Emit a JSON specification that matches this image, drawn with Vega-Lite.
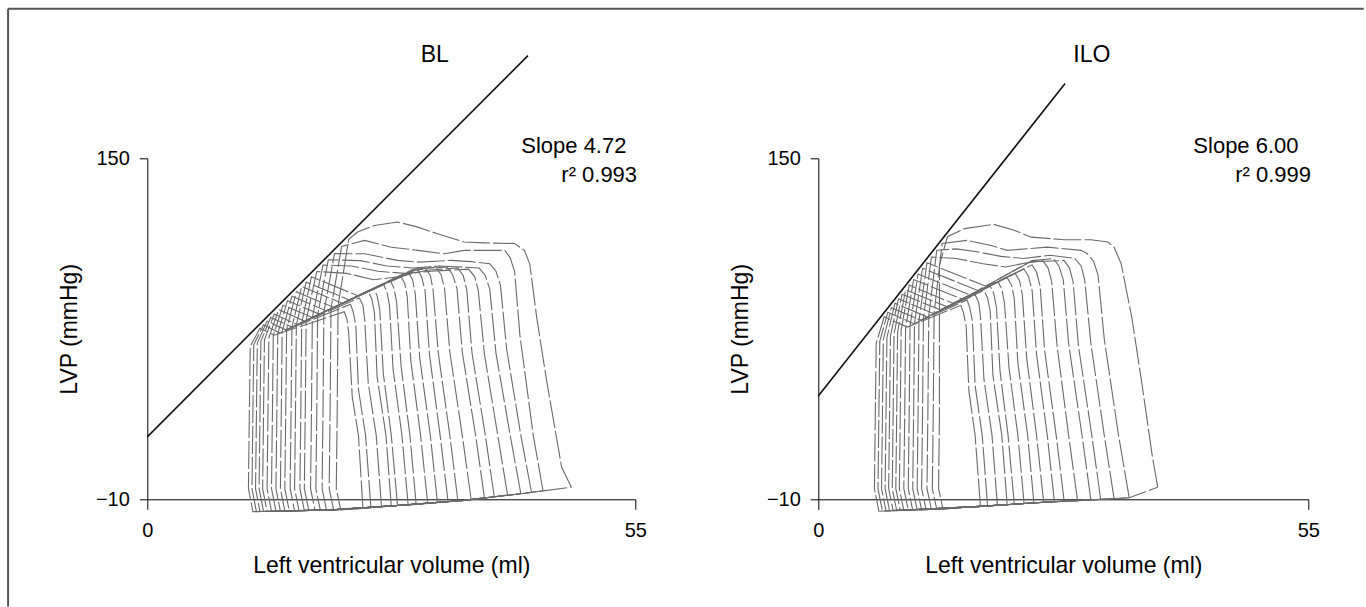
{
"$schema": "https://vega.github.io/schema/vega-lite/v6.json",
"background": "white",
"padding": {"left": 6.3, "top": 7.3, "right": 0, "bottom": 0},
"bounds": "flush",
"spacing": 183,
"config": {
 "view": {"stroke": null},
 "font": "Liberation Sans",
 "axis": {"grid": false, "domainColor": "#000", "domainWidth": 1, "tickColor": "#000", "tickWidth": 1, "labelColor": "#000", "titleColor": "#000", "labelFont": "Liberation Sans", "titleFont": "Liberation Sans", "titleFontWeight": "normal", "labelFontSize": 20, "titleFontSize": 23, "labelFlush": false, "labelOverlap": false},
 "axisX": {"tickSize": 10, "labelPadding": 11, "titlePadding": 14},
 "axisY": {"tickSize": 8, "labelPadding": 10, "titlePadding": 14}
},
"datasets": {
"bl": [
{"k":1,"x":47.8,"y":-4.3},{"k":1,"x":46.7,"y":5},{"k":1,"x":45.0,"y":45.8},{"k":1,"x":43.9,"y":75},{"k":1,"x":43.1,"y":100.5},{"k":1,"x":42.5,"y":106.8},{"k":1,"x":41.4,"y":110},{"k":1,"x":38,"y":110.3},{"k":1,"x":35.7,"y":110.7},{"k":1,"x":32.7,"y":114.6},{"k":1,"x":30.5,"y":117.7},{"k":1,"x":28.2,"y":120.1},{"k":1,"x":25.6,"y":118.5},{"k":1,"x":23.7,"y":115.4},{"k":1,"x":22.7,"y":112},{"k":1,"x":21.5,"y":80.9},{"k":1,"x":21.4,"y":30},{"k":1,"x":21.3,"y":-5},{"k":1,"x":21.8,"y":-15.0},{"k":1,"x":28.2,"y":-12.9},{"k":1,"x":35.7,"y":-10.5},{"k":1,"x":42.1,"y":-7.4},{"k":1,"x":47.8,"y":-4.3},
{"k":2,"x":44.6,"y":-6.0},{"k":2,"x":43.5,"y":20},{"k":2,"x":42.0,"y":66.8},{"k":2,"x":41.4,"y":96.8},{"k":2,"x":40.9,"y":103.3},{"k":2,"x":40.3,"y":106.8},{"k":2,"x":35.7,"y":106.8},{"k":2,"x":33.5,"y":105.2},{"k":2,"x":30.5,"y":106.8},{"k":2,"x":27.5,"y":108.3},{"k":2,"x":24.5,"y":111.5},{"k":2,"x":21.9,"y":108.6},{"k":2,"x":20.7,"y":79.4},{"k":2,"x":20.6,"y":30},{"k":2,"x":20.5,"y":-5},{"k":2,"x":21.0,"y":-15.0},{"k":2,"x":28.2,"y":-12.9},{"k":2,"x":35.7,"y":-10.5},{"k":2,"x":42.1,"y":-7.4},{"k":2,"x":44.6,"y":-6.0},
{"k":3,"x":43.3,"y":-6.7},{"k":3,"x":42.1,"y":20},{"k":3,"x":40.5,"y":60.5},{"k":3,"x":39.8,"y":90.5},{"k":3,"x":39.3,"y":97},{"k":3,"x":38.6,"y":100.5},{"k":3,"x":36.5,"y":101.5},{"k":3,"x":34.2,"y":102.1},{"k":3,"x":30.5,"y":101.3},{"k":3,"x":28.2,"y":102.1},{"k":3,"x":24.5,"y":105.2},{"k":3,"x":21.1,"y":105.3},{"k":3,"x":19.9,"y":77.8},{"k":3,"x":19.8,"y":30},{"k":3,"x":19.7,"y":-5},{"k":3,"x":20.2,"y":-15.1},{"k":3,"x":28.2,"y":-12.9},{"k":3,"x":35.7,"y":-10.5},{"k":3,"x":42.1,"y":-7.4},{"k":3,"x":43.3,"y":-6.7},
{"k":4,"x":42.1,"y":-7.4},{"k":4,"x":40.9,"y":20},{"k":4,"x":39.3,"y":58.5},{"k":4,"x":38.6,"y":88.5},{"k":4,"x":38.1,"y":95},{"k":4,"x":37.4,"y":98.5},{"k":4,"x":33,"y":99.5},{"k":4,"x":30,"y":98.5},{"k":4,"x":27,"y":99.5},{"k":4,"x":24,"y":102},{"k":4,"x":20.4,"y":102.4},{"k":4,"x":19.2,"y":76.5},{"k":4,"x":19.1,"y":30},{"k":4,"x":19.0,"y":-5},{"k":4,"x":19.5,"y":-15.1},{"k":4,"x":28.2,"y":-12.9},{"k":4,"x":35.7,"y":-10.5},{"k":4,"x":42.1,"y":-7.4},
{"k":5,"x":40.6,"y":-8.0},{"k":5,"x":39.5,"y":20},{"k":5,"x":38.0,"y":58},{"k":5,"x":37.3,"y":88},{"k":5,"x":36.9,"y":94.5},{"k":5,"x":36.2,"y":98},{"k":5,"x":32,"y":97},{"k":5,"x":29,"y":96},{"k":5,"x":26,"y":97},{"k":5,"x":23,"y":99.5},{"k":5,"x":19.8,"y":99.9},{"k":5,"x":18.6,"y":75.3},{"k":5,"x":18.5,"y":30},{"k":5,"x":18.4,"y":-5},{"k":5,"x":18.9,"y":-15.2},{"k":5,"x":20.7,"y":-15.0},{"k":5,"x":28.2,"y":-12.9},{"k":5,"x":35.7,"y":-10.5},{"k":5,"x":40.6,"y":-8.0},
{"k":6,"x":39.1,"y":-8.8},{"k":6,"x":38.1,"y":20},{"k":6,"x":36.6,"y":58.5},{"k":6,"x":36.0,"y":88.5},{"k":6,"x":35.6,"y":95},{"k":6,"x":35.0,"y":98.5},{"k":6,"x":31.5,"y":97.5},{"k":6,"x":28.5,"y":94.5},{"k":6,"x":25.5,"y":93},{"k":6,"x":22.5,"y":96},{"k":6,"x":19.1,"y":96.9},{"k":6,"x":17.9,"y":73.9},{"k":6,"x":17.8,"y":30},{"k":6,"x":17.7,"y":-5},{"k":6,"x":18.2,"y":-15.2},{"k":6,"x":20.7,"y":-15.0},{"k":6,"x":28.2,"y":-12.9},{"k":6,"x":35.7,"y":-10.5},{"k":6,"x":39.1,"y":-8.8},
{"k":7,"x":38.0,"y":-9.3},{"k":7,"x":37.0,"y":20},{"k":7,"x":35.5,"y":59},{"k":7,"x":34.9,"y":89},{"k":7,"x":34.4,"y":95.5},{"k":7,"x":33.8,"y":99},{"k":7,"x":30,"y":98},{"k":7,"x":23.8,"y":85.4},{"k":7,"x":18.5,"y":94.4},{"k":7,"x":17.4,"y":72.6},{"k":7,"x":17.3,"y":30},{"k":7,"x":17.2,"y":-5},{"k":7,"x":17.7,"y":-15.3},{"k":7,"x":20.7,"y":-15.0},{"k":7,"x":28.2,"y":-12.9},{"k":7,"x":35.7,"y":-10.5},{"k":7,"x":38.0,"y":-9.3},
{"k":8,"x":36.5,"y":-10.1},{"k":8,"x":35.5,"y":20},{"k":8,"x":34.1,"y":59},{"k":8,"x":33.5,"y":89},{"k":8,"x":33.1,"y":95.5},{"k":8,"x":32.5,"y":99},{"k":8,"x":30,"y":97.5},{"k":8,"x":22.8,"y":83.5},{"k":8,"x":17.9,"y":91.9},{"k":8,"x":16.8,"y":71.8},{"k":8,"x":16.7,"y":30},{"k":8,"x":16.6,"y":-5},{"k":8,"x":17.1,"y":-15.3},{"k":8,"x":20.7,"y":-15.0},{"k":8,"x":28.2,"y":-12.9},{"k":8,"x":35.7,"y":-10.5},{"k":8,"x":36.5,"y":-10.1},
{"k":9,"x":35.0,"y":-10.7},{"k":9,"x":34.1,"y":20},{"k":9,"x":32.8,"y":58.5},{"k":9,"x":32.2,"y":88.5},{"k":9,"x":31.9,"y":95},{"k":9,"x":31.3,"y":98.5},{"k":9,"x":29.5,"y":96},{"k":9,"x":22.0,"y":81.9},{"k":9,"x":17.4,"y":89.9},{"k":9,"x":16.3,"y":70.8},{"k":9,"x":16.2,"y":30},{"k":9,"x":16.1,"y":-5},{"k":9,"x":16.6,"y":-15.4},{"k":9,"x":20.7,"y":-15.0},{"k":9,"x":28.2,"y":-12.9},{"k":9,"x":35.0,"y":-10.7},
{"k":10,"x":33.9,"y":-11.1},{"k":10,"x":33.0,"y":20},{"k":10,"x":31.8,"y":58},{"k":10,"x":31.3,"y":88},{"k":10,"x":30.9,"y":94.5},{"k":10,"x":30.4,"y":98},{"k":10,"x":28.5,"y":94.5},{"k":10,"x":21.0,"y":80},{"k":10,"x":16.8,"y":87.4},{"k":10,"x":15.7,"y":69.7},{"k":10,"x":15.6,"y":30},{"k":10,"x":15.5,"y":-5},{"k":10,"x":16.0,"y":-15.4},{"k":10,"x":20.7,"y":-15.0},{"k":10,"x":28.2,"y":-12.9},{"k":10,"x":33.9,"y":-11.1},
{"k":11,"x":32.7,"y":-11.6},{"k":11,"x":31.9,"y":20},{"k":11,"x":30.7,"y":56.5},{"k":11,"x":30.2,"y":86.5},{"k":11,"x":29.9,"y":93},{"k":11,"x":29.4,"y":96.5},{"k":11,"x":20.2,"y":78.4},{"k":11,"x":16.3,"y":85.3},{"k":11,"x":15.2,"y":68.7},{"k":11,"x":15.1,"y":30},{"k":11,"x":15.0,"y":-5},{"k":11,"x":15.5,"y":-15.5},{"k":11,"x":20.7,"y":-15.0},{"k":11,"x":28.2,"y":-12.9},{"k":11,"x":32.7,"y":-11.6},
{"k":12,"x":31.6,"y":-12.0},{"k":12,"x":30.8,"y":20},{"k":12,"x":29.7,"y":55},{"k":12,"x":29.3,"y":85},{"k":12,"x":29.0,"y":91.5},{"k":12,"x":28.5,"y":95},{"k":12,"x":19.4,"y":76.9},{"k":12,"x":15.8,"y":83.2},{"k":12,"x":14.7,"y":67.7},{"k":12,"x":14.6,"y":30},{"k":12,"x":14.5,"y":-5},{"k":12,"x":15.0,"y":-15.5},{"k":12,"x":20.7,"y":-15.0},{"k":12,"x":28.2,"y":-12.9},{"k":12,"x":31.6,"y":-12.0},
{"k":13,"x":30.3,"y":-12.4},{"k":13,"x":29.6,"y":20},{"k":13,"x":28.6,"y":52.5},{"k":13,"x":28.1,"y":82.5},{"k":13,"x":27.8,"y":89},{"k":13,"x":27.4,"y":92.5},{"k":13,"x":18.6,"y":75.3},{"k":13,"x":15.3,"y":81.1},{"k":13,"x":14.2,"y":66.8},{"k":13,"x":14.1,"y":30},{"k":13,"x":14.0,"y":-5},{"k":13,"x":14.5,"y":-15.5},{"k":13,"x":20.7,"y":-15.0},{"k":13,"x":28.2,"y":-12.9},{"k":13,"x":30.3,"y":-12.4},
{"k":14,"x":29.4,"y":-12.7},{"k":14,"x":28.7,"y":20},{"k":14,"x":27.7,"y":51},{"k":14,"x":27.3,"y":81},{"k":14,"x":27.0,"y":87.5},{"k":14,"x":26.6,"y":91},{"k":14,"x":17.7,"y":73.6},{"k":14,"x":14.8,"y":79.0},{"k":14,"x":13.7,"y":65.8},{"k":14,"x":13.6,"y":30},{"k":14,"x":13.5,"y":-5},{"k":14,"x":14.0,"y":-15.6},{"k":14,"x":20.7,"y":-15.0},{"k":14,"x":28.2,"y":-12.9},{"k":14,"x":29.4,"y":-12.7},
{"k":15,"x":28.2,"y":-12.9},{"k":15,"x":27.5,"y":20},{"k":15,"x":26.6,"y":49},{"k":15,"x":26.2,"y":79},{"k":15,"x":25.9,"y":85.5},{"k":15,"x":25.5,"y":89},{"k":15,"x":16.9,"y":72},{"k":15,"x":14.3,"y":76.9},{"k":15,"x":13.2,"y":64.8},{"k":15,"x":13.1,"y":30},{"k":15,"x":13.0,"y":-5},{"k":15,"x":13.5,"y":-15.6},{"k":15,"x":20.7,"y":-15.0},{"k":15,"x":28.2,"y":-12.9},
{"k":16,"x":27.5,"y":-13.2},{"k":16,"x":26.9,"y":20},{"k":16,"x":25.9,"y":47.5},{"k":16,"x":25.6,"y":77.5},{"k":16,"x":25.3,"y":84},{"k":16,"x":24.9,"y":87.5},{"k":16,"x":16.3,"y":70.8},{"k":16,"x":13.9,"y":75.3},{"k":16,"x":12.8,"y":64.1},{"k":16,"x":12.7,"y":30},{"k":16,"x":12.6,"y":-5},{"k":16,"x":13.1,"y":-15.7},{"k":16,"x":20.7,"y":-15.0},{"k":16,"x":27.5,"y":-13.2},
{"k":17,"x":26.4,"y":-13.6},{"k":17,"x":25.8,"y":20},{"k":17,"x":24.9,"y":44.5},{"k":17,"x":24.5,"y":74.5},{"k":17,"x":24.3,"y":81},{"k":17,"x":23.9,"y":84.5},{"k":17,"x":15.6,"y":69.5},{"k":17,"x":13.5,"y":73.6},{"k":17,"x":12.4,"y":63.3},{"k":17,"x":12.3,"y":30},{"k":17,"x":12.2,"y":-5},{"k":17,"x":12.7,"y":-15.7},{"k":17,"x":20.7,"y":-15.0},{"k":17,"x":26.4,"y":-13.6},
{"k":18,"x":25.2,"y":-14.0},{"k":18,"x":24.6,"y":20},{"k":18,"x":23.8,"y":41.5},{"k":18,"x":23.5,"y":71.5},{"k":18,"x":23.2,"y":78},{"k":18,"x":22.9,"y":81.5},{"k":18,"x":14.9,"y":68.1},{"k":18,"x":13.1,"y":71.9},{"k":18,"x":12.0,"y":62.5},{"k":18,"x":11.9,"y":30},{"k":18,"x":11.8,"y":-5},{"k":18,"x":12.3,"y":-15.8},{"k":18,"x":20.7,"y":-15.0},{"k":18,"x":25.2,"y":-14.0},
{"k":19,"x":24.3,"y":-14.3},{"k":19,"x":23.8,"y":20},{"k":19,"x":23.1,"y":38},{"k":19,"x":22.7,"y":68},{"k":19,"x":22.5,"y":74.5},{"k":19,"x":22.2,"y":78},{"k":19,"x":14.3,"y":67},{"k":19,"x":12.7,"y":70.3},{"k":19,"x":11.6,"y":61.7},{"k":19,"x":11.5,"y":30},{"k":19,"x":11.4,"y":-5},{"k":19,"x":11.9,"y":-15.8},{"k":19,"x":20.7,"y":-15.0},{"k":19,"x":24.3,"y":-14.3}
],
"ilo": [
{"k":1,"x":38.1,"y":-4.3},{"k":1,"x":37.5,"y":10},{"k":1,"x":36.3,"y":45},{"k":1,"x":35.2,"y":75},{"k":1,"x":34.0,"y":100.5},{"k":1,"x":33.2,"y":108.3},{"k":1,"x":32.5,"y":110.7},{"k":1,"x":30.6,"y":111.8},{"k":1,"x":27.6,"y":111.8},{"k":1,"x":23.9,"y":113},{"k":1,"x":22.0,"y":116.2},{"k":1,"x":19.7,"y":119},{"k":1,"x":16.4,"y":117},{"k":1,"x":14.5,"y":113.2},{"k":1,"x":13.6,"y":100},{"k":1,"x":13.6,"y":30},{"k":1,"x":13.5,"y":-5},{"k":1,"x":14.0,"y":-14.6},{"k":1,"x":18.2,"y":-13.3},{"k":1,"x":25.7,"y":-11.3},{"k":1,"x":34.9,"y":-9.3},{"k":1,"x":38.1,"y":-4.3},
{"k":2,"x":34.9,"y":-9.3},{"k":2,"x":33.7,"y":20},{"k":2,"x":32.1,"y":65.2},{"k":2,"x":31.4,"y":95.2},{"k":2,"x":30.9,"y":101.7},{"k":2,"x":30.2,"y":105.2},{"k":2,"x":29.5,"y":106.8},{"k":2,"x":25.7,"y":108.3},{"k":2,"x":21.2,"y":106.8},{"k":2,"x":19.4,"y":109.1},{"k":2,"x":16.7,"y":111.5},{"k":2,"x":13.9,"y":110},{"k":2,"x":13.0,"y":77.4},{"k":2,"x":12.9,"y":30},{"k":2,"x":12.8,"y":-5},{"k":2,"x":13.3,"y":-14.7},{"k":2,"x":18.2,"y":-13.3},{"k":2,"x":25.7,"y":-11.3},{"k":2,"x":34.9,"y":-9.3},
{"k":3,"x":33.2,"y":-9.7},{"k":3,"x":32.1,"y":20},{"k":3,"x":30.6,"y":63},{"k":3,"x":29.9,"y":93},{"k":3,"x":29.5,"y":99.5},{"k":3,"x":28.8,"y":103},{"k":3,"x":26,"y":104.5},{"k":3,"x":23,"y":103},{"k":3,"x":20.5,"y":104},{"k":3,"x":18,"y":106},{"k":3,"x":15.5,"y":107.5},{"k":3,"x":13.3,"y":106.9},{"k":3,"x":12.4,"y":76.1},{"k":3,"x":12.3,"y":30},{"k":3,"x":12.2,"y":-5},{"k":3,"x":12.7,"y":-14.8},{"k":3,"x":18.2,"y":-13.3},{"k":3,"x":25.7,"y":-11.3},{"k":3,"x":33.2,"y":-9.7},
{"k":4,"x":31.7,"y":-10.1},{"k":4,"x":30.7,"y":20},{"k":4,"x":29.2,"y":62},{"k":4,"x":28.6,"y":92},{"k":4,"x":28.2,"y":98.5},{"k":4,"x":27.6,"y":102},{"k":4,"x":24,"y":101.5},{"k":4,"x":21,"y":99},{"k":4,"x":18.5,"y":100.5},{"k":4,"x":15.5,"y":103},{"k":4,"x":12.7,"y":103.7},{"k":4,"x":11.8,"y":74.8},{"k":4,"x":11.7,"y":30},{"k":4,"x":11.6,"y":-5},{"k":4,"x":12.1,"y":-14.9},{"k":4,"x":18.2,"y":-13.3},{"k":4,"x":25.7,"y":-11.3},{"k":4,"x":31.7,"y":-10.1},
{"k":5,"x":30.6,"y":-10.4},{"k":5,"x":29.6,"y":20},{"k":5,"x":28.1,"y":63},{"k":5,"x":27.5,"y":93},{"k":5,"x":27.0,"y":99.5},{"k":5,"x":26.4,"y":103},{"k":5,"x":24.0,"y":102},{"k":5,"x":18.8,"y":90},{"k":5,"x":12.2,"y":101},{"k":5,"x":11.3,"y":73.7},{"k":5,"x":11.2,"y":30},{"k":5,"x":11.1,"y":-5},{"k":5,"x":11.6,"y":-15.0},{"k":5,"x":18.2,"y":-13.3},{"k":5,"x":25.7,"y":-11.3},{"k":5,"x":30.6,"y":-10.4},
{"k":6,"x":29.1,"y":-10.6},{"k":6,"x":28.1,"y":20},{"k":6,"x":26.8,"y":62},{"k":6,"x":26.2,"y":92},{"k":6,"x":25.8,"y":98.5},{"k":6,"x":25.2,"y":102},{"k":6,"x":23.6,"y":101},{"k":6,"x":17.9,"y":88},{"k":6,"x":11.7,"y":98.4},{"k":6,"x":10.8,"y":72.6},{"k":6,"x":10.7,"y":30},{"k":6,"x":10.6,"y":-5},{"k":6,"x":11.1,"y":-15.0},{"k":6,"x":18.2,"y":-13.3},{"k":6,"x":25.7,"y":-11.3},{"k":6,"x":29.1,"y":-10.6},
{"k":7,"x":27.6,"y":-10.9},{"k":7,"x":26.7,"y":20},{"k":7,"x":25.4,"y":60},{"k":7,"x":24.9,"y":90},{"k":7,"x":24.5,"y":96.5},{"k":7,"x":24.0,"y":100},{"k":7,"x":17.0,"y":86},{"k":7,"x":11.2,"y":95.7},{"k":7,"x":10.3,"y":71.5},{"k":7,"x":10.2,"y":30},{"k":7,"x":10.1,"y":-5},{"k":7,"x":10.6,"y":-15.1},{"k":7,"x":18.2,"y":-13.3},{"k":7,"x":25.7,"y":-11.3},{"k":7,"x":27.6,"y":-10.9},
{"k":8,"x":26.5,"y":-11.1},{"k":8,"x":25.7,"y":20},{"k":8,"x":24.5,"y":58},{"k":8,"x":24.0,"y":88},{"k":8,"x":23.6,"y":94.5},{"k":8,"x":23.1,"y":98},{"k":8,"x":16.1,"y":84},{"k":8,"x":10.7,"y":93.1},{"k":8,"x":9.8,"y":70.4},{"k":8,"x":9.7,"y":30},{"k":8,"x":9.6,"y":-5},{"k":8,"x":10.1,"y":-15.1},{"k":8,"x":18.2,"y":-13.3},{"k":8,"x":25.7,"y":-11.3},{"k":8,"x":26.5,"y":-11.1},
{"k":9,"x":25.3,"y":-11.4},{"k":9,"x":24.5,"y":20},{"k":9,"x":23.4,"y":56},{"k":9,"x":22.9,"y":86},{"k":9,"x":22.6,"y":92.5},{"k":9,"x":22.1,"y":96},{"k":9,"x":15.1,"y":82},{"k":9,"x":10.2,"y":90.5},{"k":9,"x":9.3,"y":69.3},{"k":9,"x":9.2,"y":30},{"k":9,"x":9.1,"y":-5},{"k":9,"x":9.6,"y":-15.2},{"k":9,"x":18.2,"y":-13.3},{"k":9,"x":25.3,"y":-11.4},
{"k":10,"x":24.2,"y":-11.7},{"k":10,"x":23.5,"y":20},{"k":10,"x":22.4,"y":54},{"k":10,"x":22.0,"y":84},{"k":10,"x":21.7,"y":90.5},{"k":10,"x":21.2,"y":94},{"k":10,"x":14.4,"y":80.4},{"k":10,"x":9.8,"y":88.3},{"k":10,"x":8.9,"y":68.4},{"k":10,"x":8.8,"y":30},{"k":10,"x":8.7,"y":-5},{"k":10,"x":9.2,"y":-15.2},{"k":10,"x":18.2,"y":-13.3},{"k":10,"x":24.2,"y":-11.7},
{"k":11,"x":23.1,"y":-12.0},{"k":11,"x":22.4,"y":20},{"k":11,"x":21.4,"y":52},{"k":11,"x":20.9,"y":82},{"k":11,"x":20.6,"y":88.5},{"k":11,"x":20.2,"y":92},{"k":11,"x":13.7,"y":78.9},{"k":11,"x":9.4,"y":86.2},{"k":11,"x":8.5,"y":67.6},{"k":11,"x":8.4,"y":30},{"k":11,"x":8.3,"y":-5},{"k":11,"x":8.8,"y":-15.3},{"k":11,"x":18.2,"y":-13.3},{"k":11,"x":23.1,"y":-12.0},
{"k":12,"x":22.0,"y":-12.3},{"k":12,"x":21.3,"y":20},{"k":12,"x":20.4,"y":50},{"k":12,"x":20.0,"y":80},{"k":12,"x":19.7,"y":86.5},{"k":12,"x":19.3,"y":90},{"k":12,"x":12.9,"y":77.2},{"k":12,"x":9.0,"y":84.1},{"k":12,"x":8.1,"y":66.7},{"k":12,"x":8.0,"y":30},{"k":12,"x":7.9,"y":-5},{"k":12,"x":8.4,"y":-15.3},{"k":12,"x":18.2,"y":-13.3},{"k":12,"x":22.0,"y":-12.3},
{"k":13,"x":21.2,"y":-12.5},{"k":13,"x":20.6,"y":20},{"k":13,"x":19.6,"y":48},{"k":13,"x":19.3,"y":78},{"k":13,"x":19.0,"y":84.5},{"k":13,"x":18.6,"y":88},{"k":13,"x":12.2,"y":75.6},{"k":13,"x":8.6,"y":82},{"k":13,"x":7.7,"y":65.8},{"k":13,"x":7.6,"y":30},{"k":13,"x":7.5,"y":-5},{"k":13,"x":8.0,"y":-15.4},{"k":13,"x":18.2,"y":-13.3},{"k":13,"x":21.2,"y":-12.5},
{"k":14,"x":20.1,"y":-12.8},{"k":14,"x":19.5,"y":20},{"k":14,"x":18.6,"y":46},{"k":14,"x":18.2,"y":76},{"k":14,"x":18.0,"y":82.5},{"k":14,"x":17.6,"y":86},{"k":14,"x":11.5,"y":74.1},{"k":14,"x":8.2,"y":79.9},{"k":14,"x":7.3,"y":65},{"k":14,"x":7.2,"y":30},{"k":14,"x":7.1,"y":-5},{"k":14,"x":7.6,"y":-15.4},{"k":14,"x":18.2,"y":-13.3},{"k":14,"x":20.1,"y":-12.8},
{"k":15,"x":19.0,"y":-13.1},{"k":15,"x":18.4,"y":20},{"k":15,"x":17.6,"y":43.5},{"k":15,"x":17.3,"y":73.5},{"k":15,"x":17.0,"y":80},{"k":15,"x":16.7,"y":83.5},{"k":15,"x":10.7,"y":72.4},{"k":15,"x":7.8,"y":77.8},{"k":15,"x":6.9,"y":64.1},{"k":15,"x":6.8,"y":30},{"k":15,"x":6.7,"y":-5},{"k":15,"x":7.2,"y":-15.5},{"k":15,"x":18.2,"y":-13.3},{"k":15,"x":19.0,"y":-13.1},
{"k":16,"x":18.2,"y":-13.3},{"k":16,"x":17.6,"y":20},{"k":16,"x":16.9,"y":41},{"k":16,"x":16.6,"y":71},{"k":16,"x":16.3,"y":77.5},{"k":16,"x":16.0,"y":81},{"k":16,"x":10.0,"y":70.8},{"k":16,"x":7.4,"y":75.6},{"k":16,"x":6.5,"y":63.2},{"k":16,"x":6.4,"y":30},{"k":16,"x":6.3,"y":-5},{"k":16,"x":6.8,"y":-15.6},{"k":16,"x":18.2,"y":-13.3}
]
},
"hconcat": [
{
 "width": 488, "height": 341,
 "encoding": {
  "x": {"field": "x", "type": "quantitative", "scale": {"domain": [0, 55], "nice": false, "zero": false}, "axis": {"values": [0, 55], "title": "Left ventricular volume (ml)"}},
  "y": {"field": "y", "type": "quantitative", "scale": {"domain": [-10, 150], "nice": false, "zero": false}, "axis": {"values": [-10, 150], "title": "LVP (mmHg)"}}
 },
 "layer": [
  {"data": {"name": "bl"}, "mark": {"type": "line", "color": "#6a6a6a", "strokeWidth": 1.1, "strokeDash": [28, 3]}, "encoding": {"detail": {"field": "k", "type": "nominal"}, "order": {"value": null}}},
  {"data": {"values": [{"x": 0, "y": 19.3}, {"x": 42.9, "y": 198.2}]}, "mark": {"type": "line", "color": "#111111", "strokeWidth": 1.6}, "encoding": {}},
  {"data": {"values": [{"x": 32.4, "y": 195, "t": "BL"}]}, "mark": {"type": "text", "align": "center", "baseline": "alphabetic", "fontSize": 23, "color": "#000"}, "encoding": {"text": {"field": "t"}}},
  {"data": {"values": [{"x": 54.0, "y": 152.5, "t": "Slope 4.72"}, {"x": 55.2, "y": 138.8, "t": "r² 0.993"}]}, "mark": {"type": "text", "align": "right", "baseline": "alphabetic", "fontSize": 22, "color": "#000"}, "encoding": {"text": {"field": "t"}}},
  {"data": {"values": [{"x": -15.69, "x2": -15.69, "y": -60.3, "y2": 220.2}, {"x": -15.69, "x2": 137.1, "y": 220.2, "y2": 220.2}]}, "mark": {"type": "rule", "color": "#555555", "strokeWidth": 2}, "encoding": {"x2": {"field": "x2"}, "y2": {"field": "y2"}}}
 ]
},
{
 "width": 490, "height": 341,
 "encoding": {
  "x": {"field": "x", "type": "quantitative", "scale": {"domain": [0, 55], "nice": false, "zero": false}, "axis": {"values": [0, 55], "title": "Left ventricular volume (ml)"}},
  "y": {"field": "y", "type": "quantitative", "scale": {"domain": [-10, 150], "nice": false, "zero": false}, "axis": {"values": [-10, 150], "title": "LVP (mmHg)"}}
 },
 "layer": [
  {"data": {"name": "ilo"}, "mark": {"type": "line", "color": "#6a6a6a", "strokeWidth": 1.1, "strokeDash": [28, 3]}, "encoding": {"detail": {"field": "k", "type": "nominal"}, "order": {"value": null}}},
  {"data": {"values": [{"x": 0, "y": 38.5}, {"x": 27.7, "y": 185.1}]}, "mark": {"type": "line", "color": "#111111", "strokeWidth": 1.6}, "encoding": {}},
  {"data": {"values": [{"x": 30.7, "y": 195.3, "t": "ILO"}]}, "mark": {"type": "text", "align": "center", "baseline": "alphabetic", "fontSize": 23, "color": "#000"}, "encoding": {"text": {"field": "t"}}},
  {"data": {"values": [{"x": 53.9, "y": 152.5, "t": "Slope 6.00"}, {"x": 55.3, "y": 138.8, "t": "r² 0.999"}]}, "mark": {"type": "text", "align": "right", "baseline": "alphabetic", "fontSize": 22, "color": "#000"}, "encoding": {"text": {"field": "t"}}}
 ]
}
]
}
